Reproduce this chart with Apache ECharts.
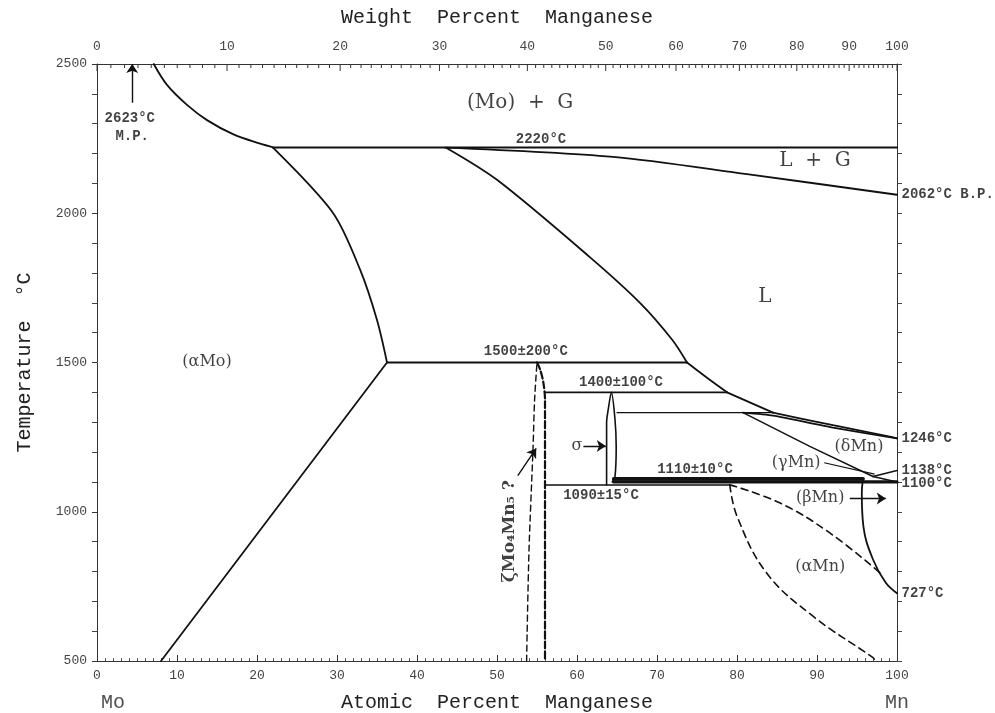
<!DOCTYPE html>
<html>
<head>
<meta charset="utf-8">
<script src="https://cdn.jsdelivr.net/npm/echarts/dist/echarts.min.js"></script>
<style>
  html, body { margin: 0; padding: 0; background: #fff; }
  #chart { width: 995px; height: 713px; }
</style>
</head>
<body>
<div id="chart"></div>
<script>
// Mo–Mn binary phase diagram: temperature (°C) vs. atomic percent Mn,
// with a weight-percent scale along the top edge.

const MO_MASS = 95.95;
const MN_MASS = 54.938;

// Axis tick values
const atomicTicks = [0, 10, 20, 30, 40, 50, 60, 70, 80, 90, 100];
const tempTicks = [500, 1000, 1500, 2000, 2500];
const weightTicks = [0, 10, 20, 30, 40, 50, 60, 70, 80, 90, 100];

// Phase boundaries, [at.% Mn, °C]
const moMeltCurve = [[7.1, 2500], [8.75, 2430], [11.25, 2363], [13.75, 2312], [17, 2265], [20.4, 2233], [22, 2221]];
const line2220 = [[22, 2220], [100, 2220]];
const boilingCurve = [[43.5, 2220], [64.5, 2189], [81.25, 2131], [100, 2062]];
const moSolidus = [[22, 2220], [29.5, 2001], [32.9, 1810], [35, 1642], [36.25, 1500]];
const moSolvus = [[36.25, 1500], [8, 500]];
const line1500 = [[36.25, 1500], [73.75, 1500]];
const liquidusHigh = [[43.75, 2218], [50, 2112], [61.6, 1853], [67.9, 1699], [71.9, 1576], [73.75, 1500]];
const liquidusMid = [[73.75, 1500], [76.25, 1449], [78.75, 1400]];
const liquidusPeritectic = [[78.75, 1400], [84.5, 1332]];
const liquidusLow = [[84.5, 1332], [89.5, 1304], [92, 1290], [99.4, 1250], [100, 1246]];
const deltaSolidus = [[80.75, 1332], [84.5, 1322], [92, 1282], [100, 1246]];
const deltaSolvus = [[80.75, 1332], [89.1, 1219], [97, 1118]];
const gammaUpper = [[97, 1118], [100, 1138]];
const gammaLower = [[97, 1118], [100, 1100]];
const line1400 = [[56, 1400], [78.75, 1400]];
const line1332 = [[65, 1332], [84.5, 1332]];
const line1110 = [[64.6, 1110], [95.75, 1110]];
const line1100 = [[64.6, 1100], [100, 1100]];
const line1090 = [[56, 1090], [79.1, 1090]];
const sigmaLens = [[63.7, 1090], [63.7, 1298], [63.9, 1342], [64.3, 1400], [64.75, 1309], [64.9, 1218], [64.75, 1118], [64.4, 1100]];
const zetaLeft = [[53.7, 500], [54.0, 870], [54.5, 1210], [54.7, 1375], [55.0, 1500]];
const zetaRight = [[55.0, 1500], [55.4, 1476], [55.8, 1432], [56, 1375], [56, 500]];
const betaMnCurve = [[95.75, 1110], [95.6, 1063], [95.8, 951], [97.0, 840], [98.6, 762], [100, 727]];
const alphaMnLeft = [[79.1, 1090], [80.0, 985], [83.7, 795], [89.5, 650], [97.0, 511], [97.3, 500]];
const alphaMnRight = [[79.1, 1090], [85.4, 1029], [91.6, 929], [97.9, 795]];

// Text annotations, [at.% Mn, °C, text]
const regionLabels = [
  [52.9, 2369, '(Mo)  +  G'],
  [89.75, 2175, 'L  +  G'],
  [83.5, 1720, 'L']
];
const phaseLabels = [
  [13.75, 1502, '(αMo)'],
  [95.25, 1218, '(δMn)'],
  [87.4, 1164, '(γMn)'],
  [90.4, 1047, '(βMn)'],
  [90.4, 816, '(αMn)'],
  [60, 1220, 'σ']
];
const tempLabels = [
  [55.5, 2246, '2220°C'],
  [53.6, 1536, '1500±200°C'],
  [65.5, 1432, '1400±100°C'],
  [74.75, 1141, '1110±10°C'],
  [63, 1054, '1090±15°C'],
  [4.1, 2316, '2623°C'],
  [4.4, 2256, 'M.P.']
];
const edgeLabels = [
  [100, 2062, '2062°C B.P.'],
  [100, 1246, '1246°C'],
  [100, 1138, '1138°C'],
  [100, 1096, '1100°C'],
  [100, 727, '727°C']
];
const zetaLabel = [[51.6, 935, 'ζMo₄Mn₅ ?']];
const elementLabels = [[2, 500, 'Mo'], [100, 500, 'Mn']];

// Arrows and leaders, [[x1, T1], [x2, T2]]
const arrows = [
  [[4.4, 2370], [4.4, 2500]],
  [[60.8, 1220], [63.6, 1220]],
  [[52.6, 1121], [54.9, 1212]],
  [[94.1, 1044], [98.6, 1044]]
];
const leaders = [
  [[90.9, 1164], [97.2, 1126]]
];

function wtToAt(w) {
  const mn = w / MN_MASS, mo = (100 - w) / MO_MASS;
  return (mn / (mn + mo)) * 100;
}

const weightTickMarks = [];
for (let w = 0; w <= 100; w += 1) weightTickMarks.push([wtToAt(w), w]);

const INK = '#111';
const MONO = '"Liberation Mono", "DejaVu Sans Mono", monospace';
const SERIF = '"DejaVu Serif", "Liberation Serif", serif';

function boundary(data, opt) {
  opt = opt || {};
  return {
    type: 'line', data: data, symbol: 'none', showSymbol: false,
    smooth: opt.smooth || false,
    clip: false, silent: true, z: 3,
    lineStyle: { color: INK, width: opt.width || 1.8, type: opt.dash || 'solid', cap: 'round' }
  };
}

function textSeries(rows, label) {
  return {
    type: 'scatter', clip: false, silent: true, z: 5,
    symbol: 'circle', symbolSize: 1, itemStyle: { color: 'rgba(0,0,0,0)' },
    data: rows.map(r => ({ value: [r[0], r[1]], name: r[2] })),
    label: Object.assign({ show: true, formatter: '{b}', color: INK }, label)
  };
}

const chart = echarts.init(document.getElementById('chart'), null, { renderer: 'canvas' });

const option = {
  animation: false,
  backgroundColor: '#fff',
  grid: { left: 97, right: 98, top: 64, bottom: 52, containLabel: false, outerBoundsMode: 'none' },
  xAxis: [
    {
      type: 'value', position: 'bottom', min: 0, max: 100, interval: 10,
      name: 'Atomic  Percent  Manganese', nameLocation: 'middle', nameGap: 32,
      nameTextStyle: { fontFamily: MONO, fontSize: 20, color: '#222' },
      axisLine: { show: true, onZero: false, lineStyle: { color: '#333', width: 1 } },
      axisTick: { show: true, inside: true, length: 6, lineStyle: { color: '#333' } },
      minorTick: { show: true, splitNumber: 10, length: 3, lineStyle: { color: '#555' } },
      axisLabel: { margin: 8, fontFamily: MONO, fontSize: 13, color: '#444',
        customValues: atomicTicks, formatter: v => String(v) },
      splitLine: { show: false }
    },
    {
      type: 'value', position: 'top', min: 0, max: 100,
      name: 'Weight  Percent  Manganese', nameLocation: 'middle', nameGap: 36,
      nameTextStyle: { fontFamily: MONO, fontSize: 20, color: '#222' },
      axisLine: { show: true, onZero: false, lineStyle: { color: '#333', width: 1 } },
      axisTick: { show: false }, axisLabel: { show: false }, splitLine: { show: false }
    }
  ],
  yAxis: [
    {
      type: 'value', position: 'left', min: 500, max: 2500, interval: 500,
      name: 'Temperature  °C', nameLocation: 'middle', nameGap: 62,
      nameTextStyle: { fontFamily: MONO, fontSize: 20, color: '#222' },
      axisLine: { show: true, onZero: false, lineStyle: { color: '#333', width: 1 } },
      axisTick: { show: true, inside: false, length: 5, lineStyle: { color: '#333' } },
      minorTick: { show: true, splitNumber: 5, length: 5, lineStyle: { color: '#444' } },
      axisLabel: { margin: 10, fontFamily: MONO, fontSize: 13, color: '#444',
        customValues: tempTicks, formatter: v => String(v) },
      splitLine: { show: false }
    },
    {
      type: 'value', position: 'right', min: 500, max: 2500, interval: 100,
      axisLine: { show: true, onZero: false, lineStyle: { color: '#333', width: 1 } },
      axisTick: { show: true, inside: false, length: 5, lineStyle: { color: '#444' } },
      axisLabel: { show: false }, splitLine: { show: false }
    }
  ],
  series: [
    // weight-percent scale on the top edge
    {
      type: 'custom', clip: false, silent: true, z: 4,
      data: weightTickMarks,
      renderItem: function (params, api) {
        const w = api.value(1);
        const p = api.coord([api.value(0), 2500]);
        const major = weightTicks.indexOf(w) >= 0;
        const kids = [{
          type: 'line',
          shape: { x1: p[0], y1: p[1], x2: p[0], y2: p[1] + (major ? 7 : 4) },
          style: { stroke: '#333', lineWidth: 1 }
        }];
        if (major) {
          kids.push({
            type: 'text', x: p[0], y: p[1] - 11,
            style: { text: String(w), align: 'center', verticalAlign: 'bottom',
              font: '13px ' + MONO, fill: '#444' }
          });
        }
        return { type: 'group', children: kids };
      }
    },

    boundary(moMeltCurve, { smooth: 0.35 }),
    boundary(line2220, { width: 2 }),
    boundary(boilingCurve, { smooth: 0.3 }),
    boundary(moSolidus, { smooth: 0.3 }),
    boundary(moSolvus),
    boundary(line1500),
    boundary(liquidusHigh, { smooth: 0.3 }),
    boundary(liquidusMid, { smooth: 0.2 }),
    boundary(liquidusPeritectic),
    boundary(liquidusLow, { smooth: 0.2 }),
    boundary(deltaSolidus, { smooth: 0.2 }),
    boundary(deltaSolvus, { width: 1.5 }),
    boundary(gammaUpper, { width: 1.5 }),
    boundary(gammaLower, { width: 1.5 }),
    boundary(line1400),
    boundary(line1332, { width: 1.2 }),
    boundary(line1110, { width: 3.8 }),
    boundary(line1100, { width: 3.2 }),
    boundary(line1090, { width: 1.5 }),
    boundary(sigmaLens, { smooth: 0.3, width: 1.6 }),
    boundary(zetaLeft, { smooth: 0.3, width: 1.4, dash: [6, 4] }),
    boundary(zetaRight, { smooth: 0.3, width: 2.2, dash: [7, 3] }),
    boundary(betaMnCurve, { smooth: 0.4 }),
    boundary(alphaMnLeft, { smooth: 0.4, width: 1.6, dash: [7, 5] }),
    boundary(alphaMnRight, { smooth: 0.4, width: 1.6, dash: [7, 5] }),

    {
      type: 'lines', coordinateSystem: 'cartesian2d', silent: true, z: 4,
      symbol: ['none', 'arrow'], symbolSize: [0, 9],
      lineStyle: { color: INK, width: 1.4, opacity: 1, curveness: 0 },
      data: arrows.map(a => ({ coords: a }))
    },
    {
      type: 'lines', coordinateSystem: 'cartesian2d', silent: true, z: 4,
      symbol: 'none',
      lineStyle: { color: INK, width: 1.1, opacity: 1, curveness: 0 },
      data: leaders.map(a => ({ coords: a }))
    },

    textSeries(regionLabels, { position: 'inside', fontFamily: SERIF, fontSize: 20 }),
    textSeries(phaseLabels, { position: 'inside', fontFamily: SERIF, fontSize: 16 }),
    textSeries(tempLabels, { position: 'inside', fontFamily: MONO, fontWeight: 'bold', fontSize: 14 }),
    textSeries(edgeLabels, { position: 'right', distance: 4, fontFamily: MONO, fontWeight: 'bold', fontSize: 14 }),
    textSeries(zetaLabel, { position: 'inside', rotate: 90, fontFamily: SERIF, fontWeight: 'bold', fontSize: 17 }),
    textSeries(elementLabels, { position: 'inside', offset: [0, 42], fontFamily: MONO, fontSize: 20, color: '#222' })
  ]
};

chart.setOption(option);
</script>
</body>
</html>
